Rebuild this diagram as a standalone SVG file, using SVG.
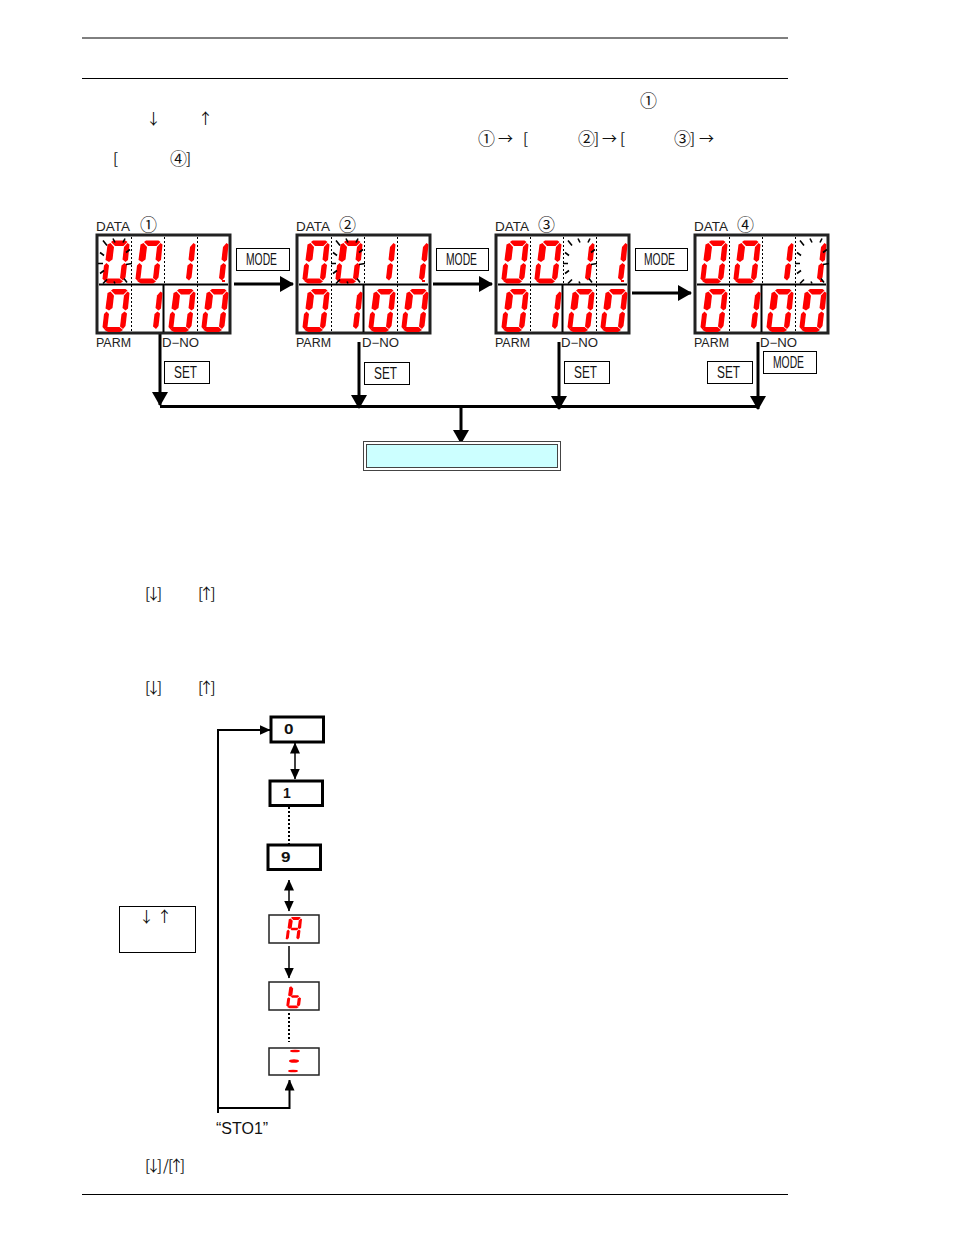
<svg xmlns="http://www.w3.org/2000/svg" width="954" height="1235" viewBox="0 0 954 1235">
<style>
.rule{stroke:#000;stroke-width:1;fill:none}
.panel{fill:#fff;stroke:#222;stroke-width:3}
.mid{stroke:#000;stroke-width:2}
.dot{stroke:#000;stroke-width:1;stroke-dasharray:2 2}
.solid{stroke:#000;stroke-width:2}
.seg{fill:#f00}
.ray{stroke:#000;stroke-width:1.6;fill:none}
.lbl{font-family:"Liberation Sans",sans-serif;font-size:12px;fill:#222}
.key{font-family:"Liberation Sans",sans-serif;font-size:16.500px;fill:#111}
.kbox{fill:#fff;stroke:#000;stroke-width:1}
.jp{font-family:"Noto Sans CJK JP","Liberation Sans",sans-serif;font-size:15px;fill:#111}
.cir{font-family:"Noto Sans CJK JP","Liberation Sans",sans-serif;font-size:17px;fill:#111}
.sans{font-family:"Liberation Sans",sans-serif;font-size:16px;fill:#111}
.num{font-family:"Liberation Sans",sans-serif;font-size:14px;font-weight:bold;fill:#111}
.thick{stroke:#000;stroke-width:3;fill:none}
.thin{stroke:#000;stroke-width:1.5;fill:none}
.line2{stroke:#000;stroke-width:2;fill:none}
.dots{stroke:#000;stroke-width:2;stroke-dasharray:2 2;fill:none}
.hbox{fill:#fff;stroke:#000;stroke-width:3}
.lbox{fill:#fff;stroke:#222;stroke-width:1.5}
</style>
<defs>
<polygon id="sa" class="seg" points="9,1.500 11,0 23.500,0 25.500,1.500 21.500,5.500 13,5.500"/>
<polygon id="sb" class="seg" points="27.500,4 26,19.500 23.500,21.500 20.500,19 22,6.500 25.500,2.500"/>
<polygon id="sc" class="seg" points="22.500,22.500 25,24.500 23.500,37 21,40 18,37.500 19.500,25"/>
<polygon id="sd" class="seg" points="4,38 17.500,38 21,41 18,43 6,43 2.500,41"/>
<polygon id="se" class="seg" points="4.500,22.500 7,25 5.500,37.500 2.500,40.500 0.500,38 2,25"/>
<polygon id="sf" class="seg" points="5.500,4 8.500,2.500 12,6.500 10.500,19 7,21.500 3.500,19.500"/>
<polygon id="sg" class="seg" points="8,21 11,19 20,19 22,21 19,23.500 10,23.500"/>
<g id="d0"><use href="#sa"/><use href="#sb"/><use href="#sc"/><use href="#sd"/><use href="#se"/><use href="#sf"/></g>
<g id="d1"><use href="#sb"/><use href="#sc"/></g>
<g id="rays" class="ray"><path d="M1,0L5,5M11,-2L13,2M23,-2L21,2M28,9L24,12M30,23L24,24M-2,12L2,15M-4,23L1,23M-2,33L2,30M1,43L5,39M22,38L25,42M12,41L13,43"/></g>
<g id="face">
<rect class="panel" x="0" y="0" width="133" height="98"/>
<line class="dot" x1="34.500" y1="2" x2="34.500" y2="96"/>
<line class="dot" x1="67.500" y1="2" x2="67.500" y2="49"/>
<line class="dot" x1="100.500" y1="2" x2="100.500" y2="96"/>
<line class="solid" x1="66.500" y1="50" x2="66.500" y2="97"/>
<line class="mid" x1="2" y1="49.500" x2="131" y2="49.500"/>
<use href="#d0" x="5" y="5.500"/><use href="#d0" x="38" y="5.500"/><use href="#d1" x="71" y="5.500"/><use href="#d1" x="104" y="5.500"/>
<use href="#d0" x="5" y="54"/><use href="#d1" x="38" y="54"/><use href="#d0" x="71" y="54"/><use href="#d0" x="104" y="54"/>
<rect x="125" y="45" width="3" height="2" fill="#f00"/>
</g>
<marker id="big" viewBox="0 0 14 16" refX="13" refY="8" markerWidth="14" markerHeight="16" markerUnits="userSpaceOnUse" orient="auto"><path d="M0,0L14,8L0,16z" fill="#000"/></marker>
<marker id="sm" viewBox="0 0 11 10" refX="10.500" refY="5" markerWidth="11" markerHeight="10" markerUnits="userSpaceOnUse" orient="auto-start-reverse"><path d="M0,0L11,5L0,10z" fill="#000"/></marker>
</defs>
<g id="rules"><line class="rule" x1="82" y1="38" x2="788" y2="38"/><line class="rule" x1="82" y1="78.500" x2="788" y2="78.500"/><line class="rule" x1="82" y1="1194.500" x2="788" y2="1194.500"/></g>
<g id="intro">
<text class="cir" x="640" y="107">①</text>
<text class="jp" x="146" y="124">↓</text><text class="jp" x="198" y="124">↑</text>
<text class="cir" x="478" y="145">①</text><text class="jp" x="498" y="144">→</text><text class="jp" x="523" y="144">[</text>
<text class="cir" x="578" y="145">②</text><text class="jp" x="594" y="144">]</text><text class="jp" x="602" y="144">→</text><text class="jp" x="620" y="144">[</text>
<text class="cir" x="674" y="145">③</text><text class="jp" x="690" y="144">]</text><text class="jp" x="699" y="144">→</text>
<text class="jp" x="113" y="164">[</text><text class="cir" x="170" y="165">④</text><text class="jp" x="186" y="164">]</text>
<text class="jp" x="145 146 157" y="599">[↓]</text><text class="jp" x="198 199 210.500" y="599">[↑]</text>
<text class="jp" x="145 146 157" y="693">[↓]</text><text class="jp" x="198 199 210.500" y="693">[↑]</text>
<text class="jp" x="145 146 157 163 168 169 180" y="1171">[↓]/[↑]</text>
</g>
<g id="connectors">
<line class="thick" x1="234" y1="284" x2="293" y2="284" marker-end="url(#big)"/>
<line class="thick" x1="433" y1="284" x2="492" y2="284" marker-end="url(#big)"/>
<line class="thick" x1="632" y1="293" x2="691" y2="293" marker-end="url(#big)"/>
<line class="thick" x1="160" y1="333" x2="160" y2="405" marker-end="url(#big)"/>
<line class="thick" x1="359" y1="342" x2="359" y2="408" marker-end="url(#big)"/>
<line class="thick" x1="559" y1="342" x2="559" y2="409" marker-end="url(#big)"/>
<line class="thick" x1="758" y1="342" x2="758" y2="409" marker-end="url(#big)"/>
<line class="thick" x1="160" y1="406.500" x2="758" y2="406.500"/>
<line class="thick" x1="461" y1="406" x2="461" y2="443" marker-end="url(#big)"/>
<path class="line2" d="M218,1113V730H270" marker-end="url(#sm)"/>
<path class="line2" d="M218,1108H289.500V1080" marker-end="url(#sm)"/>
<line class="thin" x1="295" y1="743" x2="295" y2="779" marker-start="url(#sm)" marker-end="url(#sm)"/>
<line class="dots" x1="289" y1="807" x2="289" y2="846"/>
<line class="thin" x1="289" y1="880" x2="289" y2="911" marker-start="url(#sm)" marker-end="url(#sm)"/>
<line class="thin" x1="289" y1="946" x2="289" y2="978" marker-end="url(#sm)"/>
<line class="dots" x1="289" y1="1013" x2="289" y2="1042"/>
</g>
<g id="panel1"><use href="#face" x="97" y="235"/><use href="#rays" x="102" y="240.500"/><text class="cir" x="140" y="231">①</text><text class="lbl" x="96" y="231" textLength="34" lengthAdjust="spacingAndGlyphs">DATA</text><text class="lbl" x="96" y="347" textLength="35" lengthAdjust="spacingAndGlyphs">PARM</text><text class="lbl" x="162" y="347" textLength="37" lengthAdjust="spacingAndGlyphs">D−NO</text></g>
<g id="panel2"><use href="#face" x="297" y="235"/><use href="#rays" x="335" y="240.500"/><text class="cir" x="339" y="231">②</text><text class="lbl" x="296" y="231" textLength="34" lengthAdjust="spacingAndGlyphs">DATA</text><text class="lbl" x="296" y="347" textLength="35" lengthAdjust="spacingAndGlyphs">PARM</text><text class="lbl" x="362" y="347" textLength="37" lengthAdjust="spacingAndGlyphs">D−NO</text></g>
<g id="panel3"><use href="#face" x="496" y="235"/><use href="#rays" x="567" y="240.500"/><text class="cir" x="538" y="231">③</text><text class="lbl" x="495" y="231" textLength="34" lengthAdjust="spacingAndGlyphs">DATA</text><text class="lbl" x="495" y="347" textLength="35" lengthAdjust="spacingAndGlyphs">PARM</text><text class="lbl" x="561" y="347" textLength="37" lengthAdjust="spacingAndGlyphs">D−NO</text></g>
<g id="panel4"><use href="#face" x="695" y="235"/><use href="#rays" x="799" y="240.500"/><text class="cir" x="737" y="231">④</text><text class="lbl" x="694" y="231" textLength="34" lengthAdjust="spacingAndGlyphs">DATA</text><text class="lbl" x="694" y="347" textLength="35" lengthAdjust="spacingAndGlyphs">PARM</text><text class="lbl" x="760" y="347" textLength="37" lengthAdjust="spacingAndGlyphs">D−NO</text></g>
<g id="key-mode1"><rect class="kbox" x="236.500" y="248.500" width="53" height="22"/><text class="key" x="246" y="265" textLength="31" lengthAdjust="spacingAndGlyphs">MODE</text></g>
<g id="key-mode2"><rect class="kbox" x="436.500" y="248.500" width="52" height="22"/><text class="key" x="446" y="265" textLength="31" lengthAdjust="spacingAndGlyphs">MODE</text></g>
<g id="key-mode3"><rect class="kbox" x="635.500" y="248.500" width="52" height="22"/><text class="key" x="644" y="265" textLength="31" lengthAdjust="spacingAndGlyphs">MODE</text></g>
<g id="key-mode4"><rect class="kbox" x="763.500" y="351.500" width="53" height="22"/><text class="key" x="773" y="368" textLength="31" lengthAdjust="spacingAndGlyphs">MODE</text></g>
<g id="key-set1"><rect class="kbox" x="164.500" y="361.500" width="45" height="22"/><text class="key" x="174" y="378" textLength="23" lengthAdjust="spacingAndGlyphs">SET</text></g>
<g id="key-set2"><rect class="kbox" x="364.500" y="362.500" width="45" height="22"/><text class="key" x="374" y="379" textLength="23" lengthAdjust="spacingAndGlyphs">SET</text></g>
<g id="key-set3"><rect class="kbox" x="564.500" y="361.500" width="45" height="22"/><text class="key" x="574" y="378" textLength="23" lengthAdjust="spacingAndGlyphs">SET</text></g>
<g id="key-set4"><rect class="kbox" x="707.500" y="361.500" width="45" height="22"/><text class="key" x="717" y="378" textLength="23" lengthAdjust="spacingAndGlyphs">SET</text></g>
<g id="result"><rect x="363.500" y="441.500" width="197" height="29" fill="#fff" stroke="#444"/><rect x="366.500" y="444.500" width="191" height="23" fill="#ccffff" stroke="#444"/></g>
<g id="note"><rect x="119.500" y="906.500" width="76" height="46" fill="#fff" stroke="#000"/><text class="jp" x="139" y="922">↓</text><text class="jp" x="157" y="922">↑</text></g>
<g id="n0"><rect class="hbox" x="271" y="717" width="52.500" height="25"/><text class="num" x="284" y="734" textLength="9.500" lengthAdjust="spacingAndGlyphs">0</text></g>
<g id="n1"><rect class="hbox" x="270" y="781" width="52.500" height="24.500"/><text class="num" x="283" y="798">1</text></g>
<g id="n9"><rect class="hbox" x="268" y="845" width="52.500" height="24.500"/><text class="num" x="281" y="862" textLength="9.500" lengthAdjust="spacingAndGlyphs">9</text></g>
<g id="nA"><rect class="lbox" x="269" y="915" width="50" height="28"/><use href="#sa" transform="translate(285.500,917) scale(.6,.56)"/><use href="#sb" transform="translate(285.500,917) scale(.6,.56)"/><use href="#sc" transform="translate(285.500,917) scale(.6,.56)"/><use href="#se" transform="translate(285.500,917) scale(.6,.56)"/><use href="#sf" transform="translate(285.500,917) scale(.6,.56)"/><use href="#sg" transform="translate(285.500,917) scale(.6,.56)"/></g>
<g id="nb"><rect class="lbox" x="269" y="982" width="50" height="28"/><use href="#sc" transform="translate(286,985) scale(.6,.54)"/><use href="#sd" transform="translate(286,985) scale(.6,.54)"/><use href="#se" transform="translate(286,985) scale(.6,.54)"/><use href="#sf" transform="translate(286,985) scale(.6,.54)"/><use href="#sg" transform="translate(286,985) scale(.6,.54)"/></g>
<g id="nz"><rect class="lbox" x="269" y="1048" width="50" height="27"/><ellipse cx="295" cy="1051" rx="5" ry="1.300" fill="#f00"/><ellipse cx="294" cy="1061" rx="5" ry="1.800" fill="#f00"/><ellipse cx="293" cy="1071" rx="5" ry="1.300" fill="#f00"/></g>
<text id="sto" class="sans" x="216" y="1134">“STO1”</text>
</svg>
